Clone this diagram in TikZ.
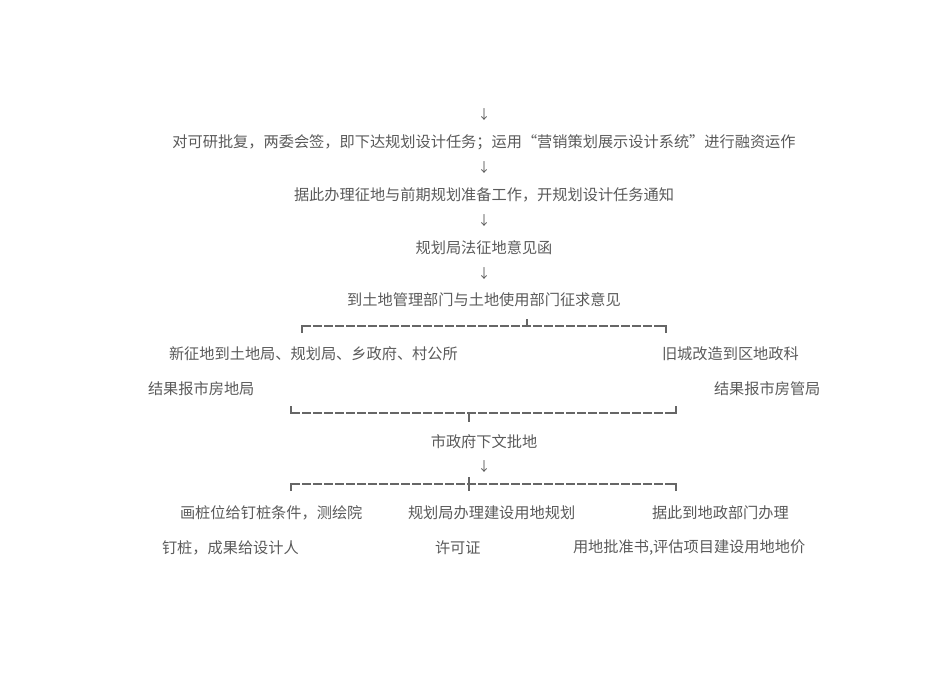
\documentclass[tikz,border=0pt]{standalone}
\usepackage{fontspec}
\setmainfont{Noto Sans CJK SC}
\definecolor{txtgray}{HTML}{5A5A5A}
\definecolor{linegray}{HTML}{666666}
\begin{document}
\begin{tikzpicture}[x=1pt,y=-1pt,
  every node/.style={inner sep=0pt,outer sep=0pt,text=txtgray,font=\fontsize{15.2}{15.2}\selectfont},
  arr/.style={font=\fontsize{13}{13}\selectfont},
  brk/.style={draw=linegray,line width=1.6pt,dash pattern=on 8.5pt off 2.5pt},
  tick/.style={draw=linegray,line width=1.6pt}]
\useasboundingbox (0,0) rectangle (950,672);
% main column
\node[arr] (a0) at (484,115) {↓};
\node (t1) at (484,142) {对可研批复，两委会签，即下达规划设计任务；运用“营销策划展示设计系统”进行融资运作};
\node[arr] (a1) at (484,168) {↓};
\node (t2) at (484,195) {据此办理征地与前期规划准备工作，开规划设计任务通知};
\node[arr] (a2) at (484,221) {↓};
\node (t3) at (484,248) {规划局法征地意见函};
\node[arr] (a3) at (484,274) {↓};
\node (t4) at (484,300) {到土地管理部门与土地使用部门征求意见};
% bracket 1
\draw[brk] (302,326) -- (666,326);
\draw[tick] (302,333) -- (302,326) -- (307,326);
\draw[tick] (666,333) -- (666,326) -- (661,326);
\draw[tick] (527,319) -- (527,326);
% branch row
\node[anchor=west] (l1) at (169,354) {新征地到土地局、规划局、乡政府、村公所};
\node[anchor=west] (l2) at (148,389) {结果报市房地局};
\node[anchor=west] (r1) at (662,354) {旧城改造到区地政科};
\node[anchor=west] (r2) at (714,389) {结果报市房管局};
% bracket 2
\draw[brk] (291,413) -- (676,413);
\draw[tick] (291,406) -- (291,413) -- (296,413);
\draw[tick] (676,406) -- (676,413) -- (671,413);
\draw[tick] (469,413) -- (469,422);
\node (t5) at (484,442) {市政府下文批地};
\node[arr] (a4) at (484,467) {↓};
% bracket 3
\draw[brk] (291,484) -- (676,484);
\draw[tick] (291,491) -- (291,484) -- (296,484);
\draw[tick] (676,491) -- (676,484) -- (671,484);
\draw[tick] (469,477) -- (469,491);
% bottom rows
\node[anchor=west] (b1) at (180,513) {画桩位给钉桩条件，测绘院};
\node[anchor=west] (b2) at (162,548) {钉桩，成果给设计人};
\node[anchor=west] (c1) at (408,513) {规划局办理建设用地规划};
\node[anchor=west] (c2) at (435,548) {许可证};
\node[anchor=west] (d1) at (652,513) {据此到地政部门办理};
\node[anchor=west] (d2) at (573,548) {用地批准书,评估项目建设用地地价};
\end{tikzpicture}
\end{document}
